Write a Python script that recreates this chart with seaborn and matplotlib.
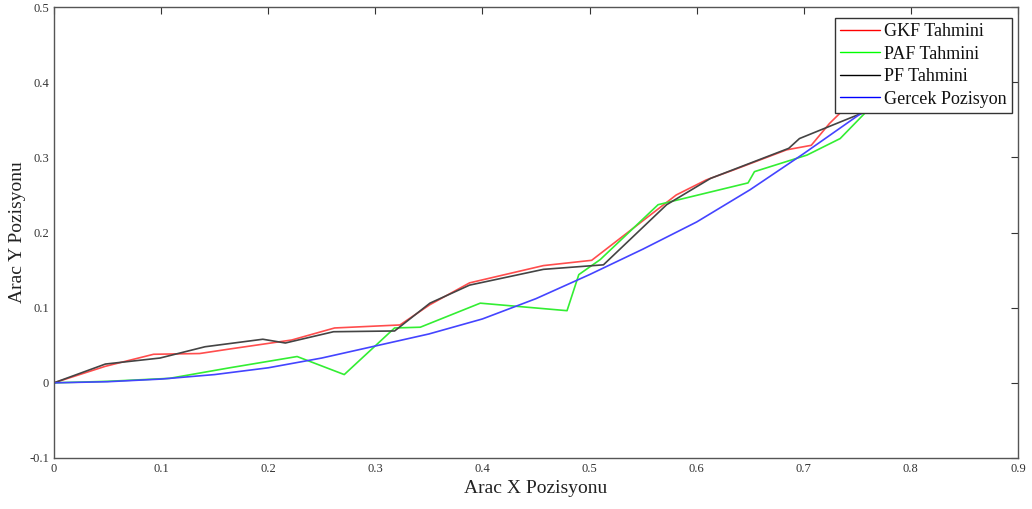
import matplotlib
matplotlib.use("Agg")
import matplotlib.pyplot as plt
import seaborn as sns
import pandas as pd
from matplotlib.lines import Line2D

# --- data ---
gkf_x = [0.0, 0.048, 0.093, 0.136, 0.164, 0.222, 0.262, 0.323, 0.351, 0.388, 0.457, 0.502,
         0.581, 0.609, 0.634, 0.684, 0.707, 0.724, 0.734, 0.760, 0.790]
gkf_y = [0.0, 0.022, 0.038, 0.039, 0.045, 0.057, 0.073, 0.077, 0.104, 0.133, 0.156, 0.163,
         0.250, 0.270, 0.283, 0.310, 0.316, 0.345, 0.359, 0.375, 0.400]

paf_x = [0.0, 0.050, 0.108, 0.164, 0.227, 0.271, 0.318, 0.342, 0.398, 0.479, 0.490, 0.510,
         0.564, 0.648, 0.654, 0.703, 0.734, 0.762, 0.790]
paf_y = [0.0, 0.002, 0.006, 0.020, 0.035, 0.011, 0.073, 0.074, 0.106, 0.096, 0.144, 0.164,
         0.237, 0.266, 0.281, 0.303, 0.325, 0.366, 0.395]

pf_x = [0.0, 0.048, 0.099, 0.141, 0.195, 0.216, 0.261, 0.318, 0.351, 0.388, 0.457, 0.513,
        0.572, 0.613, 0.686, 0.696, 0.734, 0.760, 0.790]
pf_y = [0.0, 0.025, 0.033, 0.048, 0.058, 0.053, 0.068, 0.069, 0.106, 0.130, 0.151, 0.157,
        0.237, 0.272, 0.312, 0.325, 0.347, 0.362, 0.390]

ger_x = [0.0, 0.05, 0.10, 0.15, 0.20, 0.25, 0.30, 0.35, 0.40, 0.45, 0.50, 0.55, 0.60,
         0.65, 0.70, 0.75, 0.80]
ger_y = [0.0, 0.0015, 0.005, 0.011, 0.020, 0.033, 0.049, 0.065, 0.085, 0.112, 0.144, 0.178,
         0.214, 0.257, 0.305, 0.355, 0.400]

series_names = ["GKF Tahmini", "PAF Tahmini", "PF Tahmini", "Gercek Pozisyon"]
x_ticks = [0, 0.1, 0.2, 0.3, 0.4, 0.5, 0.6, 0.7, 0.8, 0.9]
x_tick_labels = ["0", "0.1", "0.2", "0.3", "0.4", "0.5", "0.6", "0.7", "0.8", "0.9"]
y_ticks = [-0.1, 0, 0.1, 0.2, 0.3, 0.4, 0.5]
y_tick_labels = ["-0.1", "0", "0.1", "0.2", "0.3", "0.4", "0.5"]

frames = []
for name, xs, ys in zip(series_names, [gkf_x, paf_x, pf_x, ger_x], [gkf_y, paf_y, pf_y, ger_y]):
    frames.append(pd.DataFrame({"x": xs, "y": ys, "seri": name}))
df = pd.concat(frames, ignore_index=True)

sns.set_style("white")
plt.rcParams["font.family"] = ["Liberation Serif", "DejaVu Serif"]

fig = plt.figure(figsize=(10.32, 5.09), dpi=100)
ax = fig.add_axes([0.0523, 0.1002, 0.9341, 0.8860])

line_colors = ["#ff4d4d", "#33ee33", "#444444", "#4444ff"]
legend_colors = ["#ff0000", "#00ff00", "#000000", "#0000ff"]
palette = dict(zip(series_names, line_colors))

sns.lineplot(data=df, x="x", y="y", hue="seri", palette=palette, sort=False,
             estimator=None, linewidth=1.2, ax=ax, legend=False)

ax.set_xlim(0, 0.9)
ax.set_ylim(-0.1, 0.5)
ax.set_xticks(x_ticks)
ax.set_xticklabels(x_tick_labels)
ax.set_yticks(y_ticks)
ax.set_yticklabels(y_tick_labels)
ax.tick_params(direction="in", length=5, width=0.8, colors="#333333", labelsize=9,
               top=True, right=True, labelcolor="#333333")
for s in ax.spines.values():
    s.set_color("#555555")
    s.set_linewidth(1.0)

ax.set_xlabel("Arac X Pozisyonu", fontsize=14, color="#222222", labelpad=4)
ax.set_ylabel("Arac Y Pozisyonu", fontsize=14, color="#222222", labelpad=2)

handles = [Line2D([0], [0], color=c, lw=1.0) for c in legend_colors]
leg = ax.legend(handles, series_names, loc="upper right", bbox_to_anchor=(0.9935, 0.976),
                fontsize=13, frameon=True, fancybox=False, framealpha=1,
                edgecolor="#333333", handlelength=2.2, handletextpad=0.2,
                borderpad=0.3, labelspacing=0.3, borderaxespad=0)
leg.get_frame().set_linewidth(1.0)
for t in leg.get_texts():
    t.set_color("#111111")

fig.savefig("out.png", dpi=100)
